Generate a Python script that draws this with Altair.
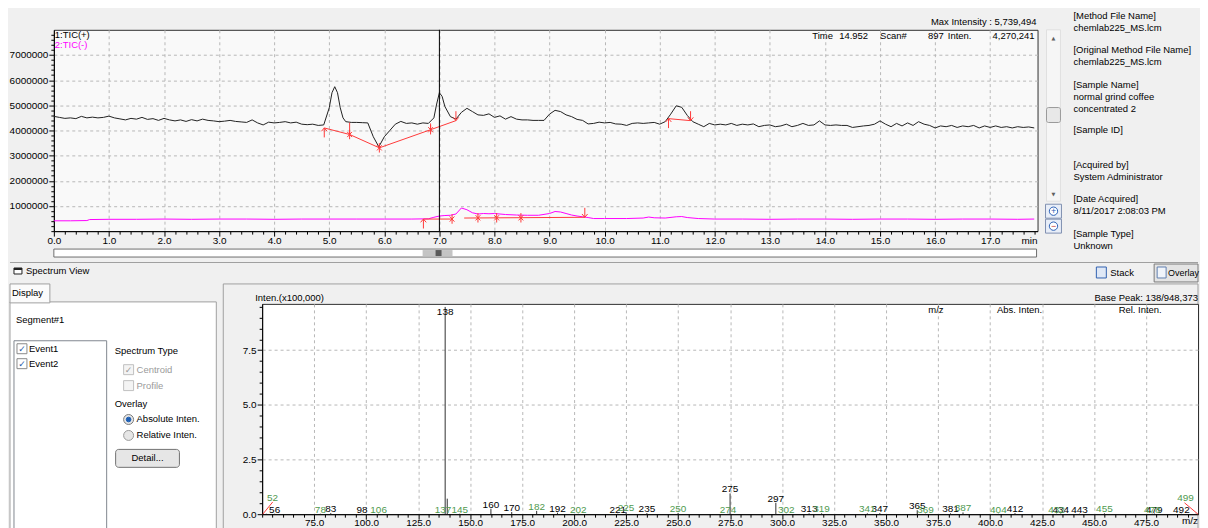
import altair as alt
import pandas as pd

FONT = "Liberation Sans"
UI = 9.5

# ---------------- chromatogram (TIC) data, intensities in millions ----------------
tic_pos_min = [
    0.0, 0.1, 0.2, 0.3, 0.4, 0.5, 0.6, 0.7, 0.8, 0.9,
    1.0, 1.1, 1.2, 1.3, 1.4, 1.5, 1.6, 1.7, 1.8, 1.9,
    2.0, 2.1, 2.2, 2.3, 2.4, 2.5, 2.6, 2.7, 2.8, 2.9,
    3.0, 3.1, 3.2, 3.3, 3.4, 3.5, 3.6, 3.7, 3.8, 3.9,
    4.0, 4.1, 4.2, 4.3, 4.4, 4.5, 4.6, 4.7, 4.8, 4.9,
    5.0, 5.05, 5.1, 5.15, 5.2, 5.25, 5.3,
    5.4, 5.5, 5.6, 5.7, 5.8, 5.9, 6.0, 6.1, 6.2, 6.3, 6.4, 6.5, 6.6, 6.7, 6.8,
    6.9, 6.95, 7.0, 7.05, 7.1,
    7.2, 7.3, 7.4, 7.5, 7.6, 7.7, 7.8, 7.9, 8.0, 8.1,
    8.2, 8.3, 8.4, 8.5, 8.6, 8.7, 8.8, 8.9, 9.0, 9.1,
    9.2, 9.3, 9.4, 9.5, 9.6, 9.7, 9.8, 9.9, 10.0, 10.1,
    10.2, 10.3, 10.4, 10.5, 10.6, 10.7, 10.8, 10.9, 11.0, 11.1,
    11.2, 11.3, 11.4, 11.5, 11.6, 11.7, 11.8, 11.9, 12.0, 12.1,
    12.2, 12.3, 12.4, 12.5, 12.6, 12.7, 12.8, 12.9, 13.0, 13.1,
    13.2, 13.3, 13.4, 13.5, 13.6, 13.7, 13.8, 13.9, 14.0, 14.1,
    14.2, 14.3, 14.4, 14.5, 14.6, 14.7, 14.8, 14.9, 15.0, 15.1,
    15.2, 15.3, 15.4, 15.5, 15.6, 15.7, 15.8, 15.9, 16.0, 16.1,
    16.2, 16.3, 16.4, 16.5, 16.6, 16.7, 16.8, 16.9, 17.0, 17.1,
    17.2, 17.3, 17.4, 17.5, 17.6, 17.7, 17.8]
tic_pos_mcounts = [
    4.56, 4.52, 4.48, 4.50, 4.47, 4.56, 4.50, 4.53, 4.50, 4.52,
    4.57, 4.50, 4.46, 4.42, 4.48, 4.45, 4.52, 4.44, 4.47, 4.40,
    4.48, 4.42, 4.38, 4.42, 4.36, 4.43, 4.38, 4.45, 4.40, 4.38,
    4.35, 4.37, 4.40, 4.36, 4.34, 4.32, 4.42, 4.30, 4.22, 4.33,
    4.30, 4.32, 4.35, 4.30, 4.33, 4.25, 4.23, 4.25, 4.20, 4.22,
    4.90, 5.50, 5.74, 5.50, 4.90, 4.50, 4.35,
    4.32, 4.32, 4.31, 4.30, 3.75, 3.35, 3.75, 4.00, 4.25, 4.36, 4.28, 4.30, 4.25, 4.30, 4.28,
    4.50, 5.05, 5.50, 5.35, 4.95,
    4.55, 4.45, 4.72, 4.88, 4.75, 4.62, 4.60, 4.66, 4.52, 4.58,
    4.45, 4.55, 4.45, 4.42, 4.42, 4.40, 4.40, 4.40, 4.65, 4.80,
    4.75, 4.62, 4.55, 4.44, 4.40, 4.26, 4.28, 4.33, 4.30, 4.32,
    4.26, 4.25, 4.20, 4.28, 4.30, 4.28, 4.30, 4.32, 4.25, 4.35,
    4.65, 4.98, 4.92, 4.60, 4.35, 4.25, 4.15, 4.28, 4.22, 4.25,
    4.22, 4.28, 4.20, 4.25, 4.22, 4.26, 4.15, 4.20, 4.22, 4.15,
    4.18, 4.25, 4.15, 4.20, 4.28, 4.20, 4.22, 4.38, 4.22, 4.20,
    4.22, 4.20, 4.20, 4.12, 4.15, 4.18, 4.20, 4.25, 4.38, 4.25,
    4.15, 4.28, 4.18, 4.30, 4.20, 4.35, 4.25, 4.20, 4.10, 4.18,
    4.15, 4.20, 4.12, 4.18, 4.15, 4.20, 4.10, 4.18, 4.12, 4.18,
    4.12, 4.15, 4.10, 4.15, 4.12, 4.14, 4.10]

tic_neg_min = [
    0.0, 0.3, 0.6, 0.65, 1.0, 1.5, 2.0, 2.5, 3.0, 3.5,
    4.0, 4.5, 5.0, 5.5, 6.0, 6.5, 6.8, 6.9, 7.0, 7.1,
    7.2, 7.3, 7.4, 7.5, 7.6, 7.7, 7.8, 7.9, 8.0, 8.2,
    8.4, 8.6, 8.8, 9.0, 9.1, 9.2, 9.3, 9.4, 9.5, 9.6,
    9.7, 9.8, 10.0, 10.4, 10.7, 10.8, 10.9, 11.1, 11.3, 11.4,
    11.5, 11.7, 12.0, 12.5, 13.0, 13.5, 14.0, 14.5, 15.0, 15.5,
    16.0, 16.5, 17.0, 17.5, 17.8]
tic_neg_mcounts = [
    0.41, 0.41, 0.42, 0.46, 0.47, 0.47, 0.48, 0.47, 0.48, 0.48,
    0.47, 0.48, 0.48, 0.48, 0.48, 0.48, 0.49, 0.55, 0.60, 0.62,
    0.63, 0.68, 0.92, 0.85, 0.73, 0.68, 0.70, 0.69, 0.70, 0.66,
    0.64, 0.63, 0.63, 0.70, 0.78, 0.76, 0.70, 0.64, 0.60, 0.57,
    0.54, 0.50, 0.50, 0.50, 0.52, 0.56, 0.53, 0.52, 0.57, 0.58,
    0.54, 0.50, 0.48, 0.48, 0.47, 0.48, 0.48, 0.47, 0.48, 0.48,
    0.47, 0.48, 0.48, 0.47, 0.48]

# peak-integration baselines and markers
base_min = [4.91, 5.37, 5.91, 6.84, 7.30, 11.16, 11.56, 6.71, 7.23, 7.45, 9.64]
base_mcounts = [4.10, 3.84, 3.31, 4.03, 4.39, 4.47, 4.39, 0.48, 0.48, 0.52, 0.55]
base_peak = ["a", "a", "a", "a", "a", "b", "b", "c", "c", "d", "d"]
drop_min = [5.37, 6.84]
drop_lo = [3.84, 4.03]
drop_hi = [4.31, 4.28]
mark_min = [4.91, 5.37, 5.91, 6.84, 7.30, 11.16, 11.56, 6.71, 7.23, 7.70, 8.04, 8.48, 9.64]
mark_mcounts = [4.10, 3.84, 3.31, 4.03, 4.39, 4.47, 4.39, 0.48, 0.48, 0.53, 0.53, 0.53, 0.55]
mark_kind = ["start", "mid", "mid", "mid", "end", "start", "end",
             "start", "mid", "mid", "mid", "mid", "end"]
cursor_min = [7.0]

# ---------------- mass spectrum data (x100,000) ----------------
ev1_mz = [56, 83, 98, 138, 160, 170, 192, 221, 235, 275, 297, 313, 347, 365, 381, 412, 434, 443, 479, 492]
ev1_int = [0.02, 0.05, 0.02, 9.48, 0.25, 0.10, 0.07, 0.02, 0.05, 0.95, 0.52, 0.04, 0.05, 0.18, 0.04, 0.05,
           0.03, 0.02, 0.03, 0.02]
ev2_mz = [52, 78, 106, 137, 145, 182, 202, 225, 250, 274, 302, 319, 341, 369, 387, 404, 432, 455, 478, 499]
ev2_int = [0.02, 0.02, 0.02, 0.02, 0.02, 0.15, 0.02, 0.10, 0.06, 0.02, 0.02, 0.04, 0.04, 0.02, 0.08, 0.02,
           0.02, 0.04, 0.02, 0.02]
stacked_labels = [52, 499]
extra_mz = [139]
extra_int = [0.71]
clip_mz = [50.3, 493.5]
clip_int = [0.0, 0.52]
clip_mz2 = [55.1, 500.0]
clip_int2 = [0.56, 0.0]

info_lines = [
    ["[Method File Name]", "chemlab225_MS.lcm"],
    ["[Original Method File Name]", "chemlab225_MS.lcm"],
    ["[Sample Name]", "normal grind coffee", "concentrated 2"],
    ["[Sample ID]"],
    ["[Acquired by]", "System Administrator"],
    ["[Date Acquired]", "8/11/2017 2:08:03 PM"],
    ["[Sample Type]", "Unknown"],
]

# ---------------- helpers ----------------
dummy = pd.DataFrame({"k": [0]})


def T(x, y, s, size=UI, color="#000000", align="left", font=FONT, baseline="middle"):
    return alt.Chart(dummy).mark_text(text=s, align=align, baseline=baseline, fontSize=size,
                                      color=color, font=font).encode(x=alt.value(x), y=alt.value(y))


def R(x, y, x2, y2, fill, stroke=None, sw=1, radius=0):
    kw = dict(fill=fill)
    if stroke:
        kw["stroke"] = stroke
        kw["strokeWidth"] = sw
    else:
        kw["strokeWidth"] = 0
    if radius:
        kw["cornerRadius"] = radius
    return alt.Chart(dummy).mark_rect(**kw).encode(
        x=alt.value(x), y=alt.value(y), x2=alt.value(x2), y2=alt.value(y2))


def P(x, y, shape, size, fill, stroke, filled=True):
    return alt.Chart(dummy).mark_point(shape=shape, size=size, filled=filled, fill=fill, stroke=stroke,
                                       strokeWidth=1, opacity=1).encode(x=alt.value(x), y=alt.value(y))


def cond(test, a, b):
    return {"condition": {"test": test, "value": a}, "value": b}


AX = dict(domainColor="#000000", tickColor="#000000", labelColor="#000000", labelFont=FONT,
          labelFontSize=10, title=None, labelOverlap=False, labelFlush=False, grid=True,
          gridDash=[3, 3], gridColor="#b8b8b8", gridWidth=1, domainWidth=1)

# ---------------- chromatogram ----------------
CW, CH = 987, 202
MX = "abs(datum.value - round(datum.value)) < 0.01"
cx_axis = alt.Axis(values=[round(i * 0.2, 1) for i in range(90)], format=".1f",
                   labelExpr=f"({MX}) ? datum.label : ''", tickSize=cond(MX, 5, 3),
                   gridOpacity=cond(f"({MX}) && datum.value > 0", 1, 0), labelPadding=-1, **AX)
MY = "datum.value % 1000000 === 0 && datum.value > 0"
cy_axis = alt.Axis(values=[i * 200000 for i in range(40)], format="d",
                   labelExpr=f"({MY}) ? datum.label : ''", tickSize=cond(MY, 5, 3),
                   gridOpacity=cond(MY, 1, 0), labelPadding=1, **AX)
cxs = alt.Scale(domain=[0, 17.86], nice=False, zero=False)
cys = alt.Scale(domain=[0, 8000000], nice=False)

tic = pd.DataFrame({
    "t": tic_pos_min + tic_neg_min,
    "v": [m * 1e6 for m in tic_pos_mcounts + tic_neg_mcounts],
    "trace": ["1:TIC(+)"] * len(tic_pos_min) + ["2:TIC(-)"] * len(tic_neg_min),
})
base = pd.DataFrame({"t": base_min, "v": [m * 1e6 for m in base_mcounts], "peak": base_peak})
drops = pd.DataFrame({"t": drop_min, "v": [m * 1e6 for m in drop_lo], "v2": [m * 1e6 for m in drop_hi]})
marks = pd.DataFrame({"t": mark_min, "v": [m * 1e6 for m in mark_mcounts], "kind": mark_kind})
cursor = pd.DataFrame({"t": cursor_min})

X = alt.X("t:Q", scale=cxs, axis=cx_axis)
Y = alt.Y("v:Q", scale=cys, axis=cy_axis)
RED = "#ff3a3a"
UP = "M0,0L0,2M-0.6,0.7L0,0L0.6,0.7"
DOWN = "M0,0L0,-2M-0.6,-0.7L0,0L0.6,-0.7"
AST = "M0,-1L0,1M-0.5,-0.55L0,0L0.5,-0.55M-0.5,0.55L0,0L0.5,0.55"

chrom_layers = [
    R(-44, -20, 1148, -1, "#f0f0f0"),
    alt.Chart(tic).mark_line(strokeWidth=1, interpolate="linear").encode(
        x=X, y=Y, color=alt.Color("trace:N", scale=alt.Scale(domain=["1:TIC(+)", "2:TIC(-)"],
                                                          range=["#222222", "#ff00ff"]), legend=None)),
    alt.Chart(base).mark_line(strokeWidth=1, color=RED).encode(x=X, y=Y, detail="peak:N"),
    alt.Chart(drops).mark_rule(strokeWidth=1, color=RED).encode(x=X, y=Y, y2="v2:Q"),
    alt.Chart(marks).mark_point(filled=False, strokeWidth=1, color=RED, opacity=1).encode(
        x=X, y=Y,
        shape=alt.Shape("kind:N", scale=alt.Scale(domain=["start", "end", "mid"], range=[UP, DOWN, AST]),
                        legend=None),
        size=alt.Size("kind:N", scale=alt.Scale(domain=["start", "end", "mid"], range=[90, 90, 260]),
                      legend=None)),
    alt.Chart(cursor).mark_rule(color="#000000", strokeWidth=1).encode(x=X),
    T(1, 5, "1:TIC(+)"),
    T(1, 15, "2:TIC(-)", color="#ff00ff"),
    T(986, -8, "Max Intensity : 5,739,494", align="right"),
    T(761, 6, "Time"), T(788, 6, "14.952"), T(829, 6, "Scan#"), T(893, 6, "897", align="right"),
    T(897, 6, "Inten."), T(984, 6, "4,270,241", align="right"),
    T(979, 212, "min", size=10, align="center"),
    # horizontal scroll bar
    R(0, 220, 986, 228, "#ffffff", "#6e6e6e"),
    R(370, 221, 400, 227, "#c4c4c4"),
    R(383, 221, 389, 227, "#5a5a5a"),
    # vertical scroll bar and zoom buttons
    R(996, 0, 1010, 172, "#f6f6f6", "#e0e0e0"),
    R(996, 78, 1010, 93, "#e8e8e8", "#9a9a9a", radius=2),
    T(1003, 8, "▲", size=5, color="#606060", align="center", font="DejaVu Sans"),
    T(1003, 165, "▼", size=5, color="#606060", align="center", font="DejaVu Sans"),
    R(995, 175, 1011, 189, "#e8eef8", "#8090b0"),
    R(995, 190, 1011, 204, "#e8eef8", "#8090b0"),
    P(1003, 182, "circle", 70, "#ffffff", "#2b5fb5"),
    P(1003, 197, "circle", 70, "#ffffff", "#2b5fb5"),
    T(1003, 182, "+", size=9, color="#2b5fb5", align="center"),
    T(1003, 197, "−", size=9, color="#c03030", align="center"),
]
# sample information text
iy = [-14, 20, 55, 101, 136, 170, 205]
for y0, group in zip(iy, info_lines):
    for k, line in enumerate(group):
        chrom_layers.append(T(1023, y0 + 12 * k, line))

chrom = alt.layer(*chrom_layers).properties(
    width=CW, height=CH, view=alt.ViewBackground(fill="#f9f9f9", stroke="#303030"))

# ---------------- spectrum ----------------
SW, SH = 939, 211
MS = "datum.value % 25 === 0 && datum.value > 50"
sx_axis = alt.Axis(values=list(range(50, 500, 5)), format=".1f", labelExpr=f"({MS}) ? datum.label : ''",
                   tickSize=cond(MS, 5, 3), gridOpacity=cond(MS, 1, 0), labelPadding=-2, **AX)
MSY = "datum.value % 2.5 === 0"
sy_axis = alt.Axis(values=[i * 0.5 for i in range(20)], format=".1f", labelExpr=f"({MSY}) ? datum.label : ''",
                   tickSize=cond(MSY, 5, 3), gridOpacity=cond(f"({MSY}) && datum.value > 0", 1, 0),
                   labelPadding=1, **AX)
sxs = alt.Scale(domain=[50, 500], nice=False, zero=False)
sys_ = alt.Scale(domain=[0, 9.62], nice=False)

peaks = pd.DataFrame({
    "mz": ev1_mz + ev2_mz + extra_mz,
    "inten": ev1_int + ev2_int + extra_int,
    "event": ["Event1"] * len(ev1_mz) + ["Event2"] * len(ev2_mz) + ["Event2"] * len(extra_mz),
    "lab": [str(m) for m in ev1_mz + ev2_mz] + [""] * len(extra_mz),
})
peaks["stacked"] = peaks["mz"].isin(stacked_labels)
clips = pd.DataFrame({"mz": clip_mz, "inten": clip_int, "mz2": clip_mz2, "inten2": clip_int2})

SX = alt.X("mz:Q", scale=sxs, axis=sx_axis)
SY = alt.Y("inten:Q", scale=sys_, axis=sy_axis)

spec_layers = [
    alt.Chart(peaks).mark_rule(color="#303030", strokeWidth=1).encode(x=SX, y=SY, y2=alt.Y2Datum(0)),
    alt.Chart(peaks).transform_calculate(
        lx="min(max(datum.mz, 55), 494)",
        ly="datum.stacked ? 0.55 : min(datum.inten, 9.05)",
        col="datum.event === 'Event1' ? '#000000' : '#4f9a4f'",
    ).mark_text(fontSize=10, baseline="alphabetic", dy=-1, font=FONT).encode(
        x=alt.X("lx:Q", scale=sxs, axis=sx_axis), y=alt.Y("ly:Q", scale=sys_, axis=sy_axis), text="lab:N",
        color=alt.Color("col:N", scale=None)),
    alt.Chart(clips).mark_rule(color=RED, strokeWidth=1).encode(
        x=SX, y=SY, x2="mz2:Q", y2="inten2:Q"),
    T(-7, -6, "Inten.(x100,000)"),
    T(939, -6, "Base Peak: 138/948,373", align="right"),
    T(676, 6, "m/z", align="center"),
    T(760, 6, "Abs. Inten.", align="center"),
    T(881, 6, "Rel. Inten.", align="center"),
    T(931, 218, "m/z", size=10, align="center"),
]
spec = alt.layer(*spec_layers).properties(
    width=SW, height=SH, view=alt.ViewBackground(fill="#ffffff", stroke="#303030"))

# ---------------- left control panel (UI chrome) ----------------
GREY = "#9a9a9a"
panel_layers = [
    R(-44, -42, 1148, -41, "#a0a0a0"),
    R(-40, -36, -32, -30, "#ffffff", "#202020"),
    R(-40, -36, -32, -34, "#202020"),
    T(-28, -33, "Spectrum View"),
    R(1046, -37, 1056, -26, "#dfe8f6", "#3060b0"),
    T(1060, -31, "Stack"),
    R(1104, -40, 1148, -22, "#e4e4e4", "#7a7a7a"),
    R(1107, -37, 1116, -26, "#f0f4fa", "#6080b0"),
    T(1118, -31, "Overlay", size=9),
    R(170, -20, 1148, 226, "#f0f0f0", "#a0a0a0"),
    R(-44, -2, 163, 226, "#ffffff", "#a0a0a0"),
    R(-44, -20, -4, -1, "#fbfbfb", "#a0a0a0"),
    T(-42, -11, "Display"),
    T(-38, 16, "Segment#1"),
    R(-40, 37, 53, 226, "#ffffff", "#828790"),
    R(-37, 40, -27, 50, "#ffffff", "#8a8a8a"),
    T(-32, 45, "✓", size=9, color="#2a5caa", align="center", font="DejaVu Sans"),
    T(-25, 45, "Event1"),
    R(-37, 55, -27, 65, "#ffffff", "#8a8a8a"),
    T(-32, 60, "✓", size=9, color="#2a5caa", align="center", font="DejaVu Sans"),
    T(-25, 60, "Event2"),
    T(61, 47, "Spectrum Type"),
    R(70, 61, 80, 71, "#f4f4f4", "#c0c0c0"),
    T(75, 66, "✓", size=9, color=GREY, align="center", font="DejaVu Sans"),
    T(83, 66, "Centroid", color=GREY),
    R(70, 77, 80, 87, "#f4f4f4", "#c0c0c0"),
    T(83, 82, "Profile", color=GREY),
    T(61, 100, "Overlay"),
    P(75, 116, "circle", 100, "#e6e6e6", "#7a7a7a"),
    P(75, 116, "circle", 22, "#1e5fb4", "#1e5fb4"),
    T(83, 116, "Absolute Inten."),
    P(75, 132, "circle", 100, "#e6e6e6", "#9a9a9a"),
    T(83, 132, "Relative Inten."),
    R(62, 146, 126, 164, "#e6e6e6", "#707070", radius=3),
    T(94, 155, "Detail...", align="center"),
]
panel = alt.layer(*panel_layers).properties(
    width=170, height=211, view=alt.ViewBackground(fill="transparent", stroke="transparent"))

bottom = alt.hconcat(panel, spec, spacing=39, bounds="flush")
chart = alt.vconcat(chrom, bottom, spacing=73, bounds="flush").properties(
    padding=0, background="#f0f0f0").configure(font=FONT)

chart.save("out.html", embed_options={"renderer": "svg", "actions": False})
